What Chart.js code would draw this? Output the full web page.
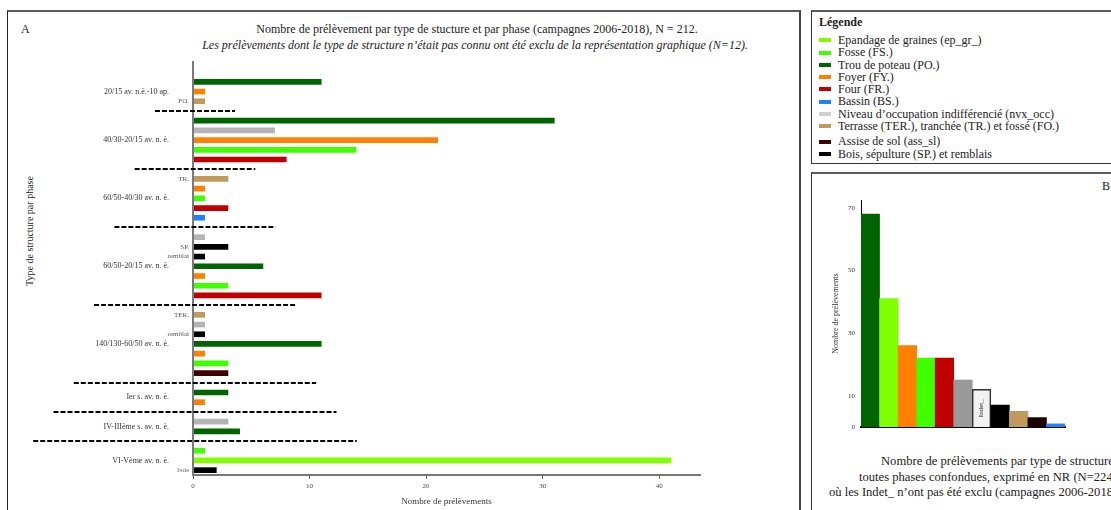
<!DOCTYPE html>
<html lang="fr">
<head>
<meta charset="utf-8">
<title>Prélèvements par type de structure</title>
<script src="https://cdn.jsdelivr.net/npm/chart.js@4.4.1/dist/chart.umd.min.js"></script>
<style>
  html, body { margin: 0; padding: 0; background: #fff; }
  body { width: 1111px; height: 510px; overflow: hidden; position: relative;
         font-family: 'Liberation Serif', 'Times New Roman', serif; color: #222; }
  .abs { position: absolute; white-space: nowrap; }
  #panelA { left: 7px; top: 10px; width: 791px; height: 530px;
            border-top: 2px solid #5a5a5a; border-left: 1px solid #222; border-right: 2px solid #444; }
  #legendBox { left: 811px; top: 10px; width: 330px; height: 151px;
               border-top: 2px solid #5a5a5a; border-left: 1px solid #333; border-bottom: 1px solid #333; }
  #panelB { left: 811px; top: 172px; width: 330px; height: 360px;
            border-top: 2px solid #5a5a5a; border-left: 1px solid #333; }
  #legendTitle { left: 819px; top: 15px; font-size: 12px; font-weight: bold; line-height: 14px; }
  #legendList { left: 819px; top: 34px; }
  .entry { height: 12.3px; line-height: 12.3px; font-size: 12px; white-space: nowrap; }
  .entry:nth-child(9) { margin-top: 3px; }
  .swatch { display: inline-block; width: 12px; height: 4px; margin-right: 7px; vertical-align: middle; position: relative; top: -1px; }
  #labA { left: 21px; top: 22px; font-size: 12px; line-height: 14px; }
  #titleA { left: 0; top: 22px; width: 954px; text-align: center; font-size: 12px; line-height: 14px; }
  #subA { left: 0; top: 38px; width: 950px; text-align: center; font-size: 12px; line-height: 14px; font-style: italic; }
  #yTitleA { left: 30px; top: 231px; font-size: 10px; line-height: 12px;
             transform: translate(-50%, -50%) rotate(-90deg); }
  #labB { left: 1102px; top: 179px; font-size: 12px; line-height: 14px; }
  .cap { font-size: 12.6px; line-height: 14px; }
  #chartA { position: absolute; left: 8px; top: 12px; }
  #chartB { position: absolute; left: 812px; top: 174px; }
</style>
</head>
<body>
<div class="abs" id="panelA"></div>
<div class="abs" id="legendBox"></div>
<div class="abs" id="panelB"></div>

<div class="abs" id="labA">A</div>
<div class="abs" id="titleA">Nombre de prélèvement par type de stucture et par phase (campagnes 2006-2018), N = 212.</div>
<div class="abs" id="subA">Les prélèvements dont le type de structure n’était pas connu ont été exclu de la représentation graphique (N=12).</div>
<div class="abs" id="yTitleA">Type de structure par phase</div>

<div class="abs" id="legendTitle">Légende</div>
<div class="abs" id="legendList"></div>

<div class="abs" id="labB">B</div>
<div class="abs cap" style="left:881px; top:454px;">Nombre de prélèvements par type de structure</div>
<div class="abs cap" style="left:859px; top:470px;">toutes phases confondues, exprimé en NR (N=224)</div>
<div class="abs cap" style="left:829px; top:485px;">où les Indet_ n’ont pas été exclu (campagnes 2006-2018).</div>

<canvas id="chartA" width="780" height="498"></canvas>
<canvas id="chartB" width="299" height="336"></canvas>

<script>
// ---- Structure types (legend order) ----
const structureKeys = ['EP', 'FS', 'PO', 'FY', 'FR', 'BS', 'NIV', 'TER', 'ASS', 'BOIS'];
const structureNames = [
  'Epandage de graines (ep_gr_)',
  'Fosse (FS.)',
  'Trou de poteau (PO.)',
  'Foyer (FY.)',
  'Four (FR.)',
  'Bassin (BS.)',
  'Niveau d’occupation indifférencié (nvx_occ)',
  'Terrasse (TER.), tranchée (TR.) et fossé (FO.)',
  'Assise de sol (ass_sl)',
  'Bois, sépulture (SP.) et remblais'
];

// ---- Chart A: samples per structure type and per phase ----
const phases = [
  '20/15 av. n.è.-10 ap.',
  '40/30-20/15 av. n. è.',
  '60/50-40/30 av. n. è.',
  '60/50-20/15 av. n. è.',
  '140/130-60/50 av. n. è.',
  'Ier s. av. n. è.',
  'IV-IIIème s. av. n. è.',
  'VI-Vème av. n. è.'
];
const phaseTypes = [
  ['PO', 'FY', 'TER'],
  ['PO', 'NIV', 'FY', 'FS', 'FR'],
  ['TER', 'FY', 'FS', 'FR', 'BS'],
  ['NIV', 'BOIS', 'BOIS', 'PO', 'FY', 'FS', 'FR'],
  ['TER', 'NIV', 'BOIS', 'PO', 'FY', 'FS', 'ASS'],
  ['PO', 'FY'],
  ['NIV', 'PO'],
  ['FS', 'EP', 'BOIS']
];
const phaseValues = [
  [11, 1, 1],
  [31, 7, 21, 14, 8],
  [3, 1, 1, 3, 1],
  [1, 3, 1, 6, 1, 3, 11],
  [1, 1, 1, 11, 1, 3, 3],
  [3, 1],
  [3, 4],
  [1, 41, 2]
];
const phaseTags = [
  ['', '', 'FO.'],
  ['', '', '', '', ''],
  ['TR.', '', '', '', ''],
  ['', 'SP.', 'remblai', '', '', '', ''],
  ['TER.', '', 'remblai', '', '', '', ''],
  ['', ''],
  ['', ''],
  ['', '', 'bois']
];
const xTicksA = { min: 0, max: 43.5, step: 10 };

// ---- Chart B: totals per structure type, all phases ----
const totalKeys = ['PO', 'EP', 'FY', 'FS', 'FR', 'NIV', 'IND', 'BOIS', 'TER', 'ASS', 'BS'];
const totalNames = ['Trou de poteau', 'Epandage de graines', 'Foyer', 'Fosse', 'Four',
  'Niveau d’occupation', 'Indet_', 'Bois, sépulture et remblais', 'Terrasse, tranchée et fossé',
  'Assise de sol', 'Bassin'];
const totalValues = [68, 41, 26, 22, 22, 15, 12, 7, 5, 3, 1];
const yTicksB = [0, 10, 30, 50, 70];

// ---- Palettes ----
const legendColors = { EP: '#80ff00', FS: '#40ff00', PO: '#006400', FY: '#ff8000', FR: '#c00000',
  BS: '#2080ff', NIV: '#d0d0d0', TER: '#c09a5b', ASS: '#3a0000', BOIS: '#000000' };
const colorsA = Object.assign({}, legendColors, { NIV: '#b4b4b4', ASS: '#400000' });
const colorsB = Object.assign({}, legendColors, { NIV: '#999999', ASS: '#1e0000', IND: '#f2f2f2' });

// ---- Legend ----
const list = document.getElementById('legendList');
structureKeys.forEach((k, i) => {
  const row = document.createElement('div');
  row.className = 'entry';
  const sw = document.createElement('span');
  sw.className = 'swatch';
  sw.style.background = legendColors[k];
  row.appendChild(sw);
  row.appendChild(document.createTextNode(structureNames[i]));
  list.appendChild(row);
});

Chart.defaults.font.family = "'Liberation Serif', 'Times New Roman', serif";
Chart.defaults.color = '#333';

// Rows of chart A: one per bar, with an empty row between phases
const rowLabels = [], rowValues = [], rowColors = [], sepRows = [], phaseSpans = [];
phases.forEach((ph, p) => {
  if (p > 0) { sepRows.push(rowLabels.length); rowLabels.push(''); rowValues.push(null); rowColors.push('rgba(0,0,0,0)'); }
  const first = rowLabels.length;
  phaseTypes[p].forEach((t, j) => {
    rowLabels.push(phaseTags[p][j]);
    rowValues.push(phaseValues[p][j]);
    rowColors.push(colorsA[t]);
  });
  phaseSpans.push([first, rowLabels.length - 1]);
});

const phaseDecor = {
  id: 'phaseDecor',
  afterDraw(chart) {
    const { ctx, chartArea, scales: { y } } = chart;
    ctx.save();
    // vertical axis line, reaching slightly above the plot
    ctx.strokeStyle = '#7a7a7a';
    ctx.lineWidth = 2;
    ctx.beginPath();
    ctx.moveTo(chartArea.left, chartArea.top - 16);
    ctx.lineTo(chartArea.left, chartArea.bottom);
    ctx.stroke();
    // phase names
    ctx.font = "8px 'Liberation Serif', serif";
    ctx.fillStyle = '#333';
    ctx.textAlign = 'right';
    ctx.textBaseline = 'middle';
    phaseSpans.forEach((s, p) => {
      const yy = (y.getPixelForValue(s[0]) + y.getPixelForValue(s[1])) / 2;
      ctx.fillText(phases[p], chartArea.left - 24, yy);
    });
    // dashed separators between phases
    ctx.setLineDash([5, 2]);
    ctx.strokeStyle = '#000';
    ctx.lineWidth = 2;
    sepRows.forEach((r, i) => {
      const yy = Math.round(y.getPixelForValue(r));
      const hw = 40 + 20.3 * i;
      const cx = chartArea.left + 2;
      ctx.beginPath();
      ctx.moveTo(cx - hw, yy);
      ctx.lineTo(cx + hw, yy);
      ctx.stroke();
    });
    ctx.restore();
  }
};

new Chart(document.getElementById('chartA'), {
  type: 'bar',
  data: {
    labels: rowLabels,
    datasets: [{ data: rowValues, backgroundColor: rowColors, barThickness: 5 }]
  },
  options: {
    indexAxis: 'y',
    responsive: false,
    animation: false,
    devicePixelRatio: 1,
    layout: { padding: { top: 65, right: 88, left: 0, bottom: 0 } },
    plugins: { legend: { display: false }, tooltip: { enabled: false } },
    scales: {
      x: {
        type: 'linear',
        min: xTicksA.min, max: xTicksA.max,
        ticks: { stepSize: xTicksA.step, includeBounds: false, font: { size: 7 }, color: '#444', padding: 3 },
        grid: { display: true, drawOnChartArea: false, drawTicks: true, tickLength: 4, color: '#666' },
        border: { display: true, color: '#777', width: 2 },
        title: { display: true, text: 'Nombre de prélèvements', font: { size: 9 }, color: '#333', padding: { top: 4, bottom: 3 } },
        afterFit(s) { s.height = 35; }
      },
      y: {
        type: 'category',
        grid: { display: false, drawTicks: false },
        border: { display: false },
        ticks: { autoSkip: false, font: { size: 7 }, color: '#555', padding: 4,
                 callback: (v, i) => rowLabels[i] },
        afterFit(s) { s.width = 185; }
      }
    }
  },
  plugins: [phaseDecor]
});

// Rotated category name inside the "Indet_" bar
const indetLabel = {
  id: 'indetLabel',
  afterDatasetsDraw(chart) {
    const i = totalKeys.indexOf('IND');
    const bar = chart.getDatasetMeta(0).data[i];
    if (!bar) return;
    const { ctx } = chart;
    ctx.save();
    ctx.translate(bar.x, (bar.y + bar.base) / 2);
    ctx.rotate(-Math.PI / 2);
    ctx.font = "7px 'Liberation Serif', serif";
    ctx.fillStyle = '#222';
    ctx.textAlign = 'center';
    ctx.textBaseline = 'middle';
    ctx.fillText(totalNames[i], 0, 0);
    ctx.restore();
  }
};

new Chart(document.getElementById('chartB'), {
  type: 'bar',
  data: {
    labels: totalNames,
    datasets: [{
      data: totalValues,
      backgroundColor: totalKeys.map(k => colorsB[k]),
      borderColor: totalKeys.map(k => k === 'IND' ? '#333' : 'rgba(0,0,0,0)'),
      borderWidth: totalKeys.map(k => k === 'IND' ? 1.5 : 0),
      categoryPercentage: 1,
      barPercentage: 1
    }]
  },
  options: {
    responsive: false,
    animation: false,
    devicePixelRatio: 1,
    layout: { padding: { top: 26, right: 46, left: 0, bottom: 0 } },
    plugins: { legend: { display: false }, tooltip: { enabled: false } },
    scales: {
      x: {
        grid: { display: false },
        ticks: { display: false },
        border: { display: true, color: '#000', width: 2 },
        afterFit(s) { s.height = 83; }
      },
      y: {
        min: 0, max: 72.5,
        grid: { display: false, drawTicks: false },
        border: { display: true, color: '#000', width: 1 },
        ticks: { font: { size: 7 }, color: '#333', padding: 6 },
        afterBuildTicks(s) { s.ticks = yTicksB.map(v => ({ value: v })); },
        title: { display: true, text: 'Nombre de prélèvements', font: { size: 8 }, color: '#333', padding: { top: 19, bottom: 0 } },
        afterFit(s) { s.width = 49; }
      }
    }
  },
  plugins: [indetLabel]
});
</script>
</body>
</html>
